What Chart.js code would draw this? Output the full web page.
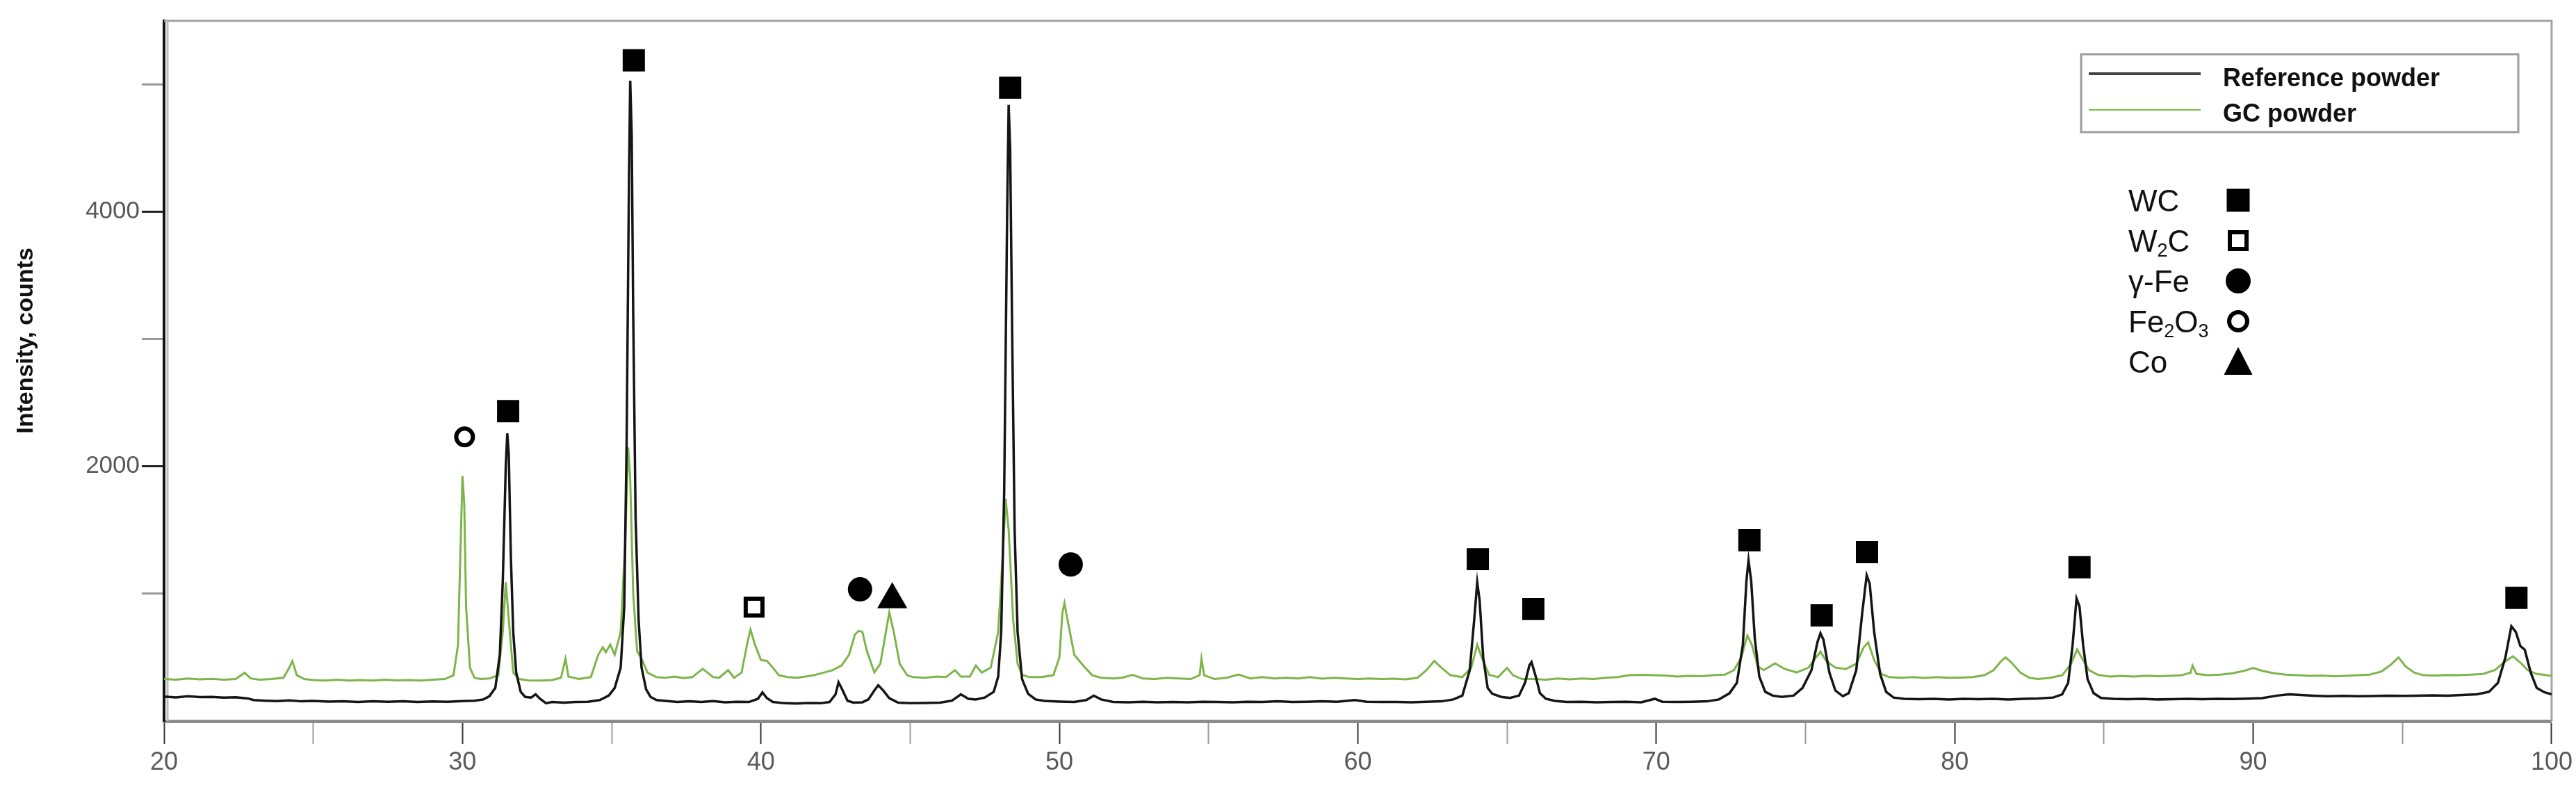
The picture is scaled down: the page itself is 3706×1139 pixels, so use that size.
<!DOCTYPE html>
<html>
<head>
<meta charset="utf-8">
<script src="https://cdn.jsdelivr.net/npm/chart.js@4.4.0/dist/chart.umd.min.js"></script>
<style>
  html, body { margin: 0; padding: 0; background: #fff; }
  #wrap { width: 3706px; height: 1139px; }
</style>
</head>
<body>
<div id="wrap"><canvas id="xrd" width="3706" height="1139"></canvas></div>
<script>
// XRD patterns, [2theta, counts]
const referencePowder = [
  [20.0,192],[20.4,186],[20.8,195],[21.2,188],[21.6,190],[22.0,184],[22.4,187],[22.8,178],[23.0,165],[23.4,160],
  [23.8,157],[24.2,162],[24.6,155],[25.0,158],[25.5,153],[26.0,156],[26.5,150],[27.0,155],[27.5,152],[28.0,156],
  [28.5,150],[29.0,154],[29.5,152],[30.0,157],[30.4,160],[30.7,170],[30.9,195],[31.1,260],[31.25,520],[31.35,1100],
  [31.45,2000],[31.5,2260],[31.55,2100],[31.62,1300],[31.7,700],[31.8,380],[31.95,230],[32.1,190],[32.3,185],[32.45,210],
  [32.6,175],[32.8,140],[33.0,150],[33.4,145],[33.8,150],[34.2,152],[34.6,165],[34.9,200],[35.1,260],[35.3,420],
  [35.42,900],[35.5,2200],[35.58,4300],[35.62,5030],[35.67,4600],[35.72,3200],[35.8,1600],[35.9,800],[36.0,420],[36.15,250],
  [36.3,190],[36.5,165],[36.8,158],[37.2,150],[37.6,155],[38.0,150],[38.4,157],[38.8,148],[39.2,152],[39.6,150],
  [39.9,175],[40.05,225],[40.2,180],[40.4,150],[40.8,140],[41.2,138],[41.6,142],[42.0,140],[42.3,150],[42.5,210],
  [42.6,305],[42.72,250],[42.9,160],[43.1,145],[43.4,148],[43.6,170],[43.8,240],[43.93,282],[44.1,240],[44.3,180],
  [44.6,145],[45.0,140],[45.5,142],[46.0,145],[46.4,160],[46.7,210],[46.95,175],[47.2,170],[47.5,185],[47.8,230],
  [47.95,350],[48.05,700],[48.15,1800],[48.25,4000],[48.3,4840],[48.35,4500],[48.42,3000],[48.5,1500],[48.6,700],[48.75,330],
  [48.95,215],[49.2,170],[49.5,158],[50.0,153],[50.5,150],[50.9,165],[51.15,200],[51.4,170],[51.8,150],[52.3,147],
  [52.8,152],[53.3,148],[53.8,150],[54.3,147],[54.8,152],[55.3,150],[55.8,148],[56.3,152],[56.8,150],[57.3,155],
  [57.8,150],[58.3,152],[58.8,155],[59.3,152],[59.9,165],[60.3,152],[60.8,150],[61.3,150],[61.8,148],[62.3,152],
  [62.8,155],[63.2,170],[63.5,200],[63.75,400],[63.9,800],[64.0,1090],[64.08,950],[64.2,500],[64.35,260],[64.5,215],
  [64.8,190],[65.1,182],[65.4,200],[65.6,300],[65.75,440],[65.82,463],[65.95,360],[66.1,220],[66.3,175],[66.6,158],
  [67.0,150],[67.5,152],[68.0,148],[68.5,150],[69.0,152],[69.5,148],[69.95,175],[70.2,152],[70.7,150],[71.2,152],
  [71.7,155],[72.1,170],[72.45,218],[72.7,300],[72.9,600],[73.02,1100],[73.09,1263],[73.18,1100],[73.3,650],[73.45,350],
  [73.65,230],[73.9,200],[74.2,190],[74.6,200],[74.9,260],[75.2,400],[75.4,620],[75.5,690],[75.6,640],[75.8,380],
  [76.0,240],[76.25,195],[76.45,220],[76.7,400],[76.9,850],[77.05,1145],[77.15,1080],[77.3,700],[77.5,370],[77.7,230],
  [77.95,185],[78.3,175],[78.8,172],[79.3,175],[79.8,170],[80.3,175],[80.8,172],[81.3,175],[81.8,170],[82.3,175],
  [82.8,178],[83.3,185],[83.6,210],[83.8,300],[83.95,600],[84.08,963],[84.18,900],[84.3,600],[84.45,330],[84.65,220],
  [84.9,182],[85.3,175],[85.8,172],[86.3,175],[86.8,170],[87.3,172],[87.8,175],[88.3,172],[88.8,175],[89.3,173],
  [89.8,176],[90.3,180],[90.8,200],[91.2,210],[91.6,205],[92.0,200],[92.5,195],[93.0,198],[93.5,195],[94.0,197],
  [94.5,200],[95.0,198],[95.5,200],[96.0,202],[96.5,200],[97.0,205],[97.5,210],[97.9,230],[98.2,300],[98.45,500],
  [98.65,745],[98.8,700],[98.95,590],[99.1,560],[99.3,380],[99.5,260],[99.75,227],[100.0,210]
];

const gcPowder = [
  [20.0,330],[20.4,325],[20.8,335],[21.2,328],[21.6,332],[22.0,325],[22.4,330],[22.7,380],[22.9,335],[23.2,325],
  [23.6,330],[24.0,340],[24.2,420],[24.3,472],[24.45,360],[24.7,330],[25.0,322],[25.4,318],[25.8,325],[26.2,318],
  [26.6,322],[27.0,318],[27.4,325],[27.8,320],[28.2,322],[28.6,318],[29.0,325],[29.4,330],[29.7,360],[29.85,600],
  [29.95,1500],[30.0,1925],[30.06,1700],[30.12,900],[30.25,420],[30.4,340],[30.6,330],[30.9,335],[31.2,360],[31.35,700],
  [31.45,1090],[31.55,800],[31.7,380],[31.9,330],[32.2,320],[32.6,318],[33.0,322],[33.3,340],[33.45,490],[33.55,350],
  [33.9,330],[34.3,345],[34.55,520],[34.7,580],[34.8,540],[34.95,600],[35.1,520],[35.3,700],[35.45,1400],[35.55,2150],
  [35.62,1900],[35.72,1000],[35.85,550],[36.0,490],[36.2,380],[36.5,345],[36.8,340],[37.1,350],[37.4,338],[37.7,345],
  [38.05,410],[38.4,345],[38.6,340],[38.9,400],[39.1,340],[39.35,380],[39.55,620],[39.65,718],[39.8,600],[40.0,480],
  [40.2,473],[40.4,420],[40.6,360],[40.9,345],[41.2,340],[41.5,350],[41.8,362],[42.1,380],[42.4,400],[42.7,436],
  [42.95,520],[43.15,680],[43.28,709],[43.4,700],[43.55,550],[43.8,382],[44.0,450],[44.15,650],[44.3,854],[44.45,700],
  [44.65,450],[44.9,360],[45.1,345],[45.5,340],[45.9,350],[46.2,345],[46.5,400],[46.7,350],[47.0,350],[47.2,436],
  [47.4,380],[47.7,420],[47.95,700],[48.1,1300],[48.2,1744],[48.3,1500],[48.45,800],[48.6,450],[48.75,363],[49.0,345],
  [49.4,345],[49.8,360],[50.0,500],[50.1,850],[50.17,927],[50.3,760],[50.5,520],[50.8,436],[51.1,360],[51.4,340],
  [51.8,335],[52.1,340],[52.45,363],[52.8,335],[53.2,330],[53.6,340],[54.0,335],[54.4,330],[54.7,360],[54.76,490],
  [54.85,360],[55.2,330],[55.6,340],[56.0,365],[56.4,335],[56.8,345],[57.2,335],[57.6,340],[58.0,335],[58.4,345],
  [58.8,333],[59.2,340],[59.6,335],[60.0,330],[60.4,335],[60.8,330],[61.2,333],[61.6,328],[62.0,340],[62.3,400],
  [62.56,472],[62.8,420],[63.1,360],[63.5,345],[63.8,420],[64.0,600],[64.15,500],[64.4,363],[64.7,345],[65.0,418],
  [65.2,360],[65.5,330],[65.9,330],[66.3,325],[66.7,335],[67.1,328],[67.5,335],[67.9,330],[68.3,340],[68.7,345],
  [69.1,360],[69.5,363],[69.9,360],[70.3,358],[70.7,350],[71.1,355],[71.5,352],[71.9,360],[72.3,365],[72.6,400],
  [72.85,500],[73.05,672],[73.2,600],[73.4,430],[73.6,400],[73.98,454],[74.3,410],[74.7,382],[75.1,420],[75.35,500],
  [75.5,545],[75.7,470],[76.0,420],[76.35,409],[76.7,450],[76.95,580],[77.1,618],[77.3,480],[77.55,370],[77.8,345],
  [78.2,340],[78.6,345],[79.0,338],[79.4,345],[79.8,340],[80.2,342],[80.6,345],[81.0,360],[81.3,400],[81.55,470],
  [81.7,500],[81.9,460],[82.2,380],[82.5,340],[82.8,330],[83.2,340],[83.6,360],[83.9,450],[84.1,563],[84.25,500],
  [84.5,400],[84.8,363],[85.2,350],[85.6,355],[86.0,350],[86.4,356],[86.8,352],[87.2,355],[87.6,360],[87.9,380],
  [87.97,436],[88.1,370],[88.5,360],[88.9,365],[89.3,375],[89.7,395],[90.0,418],[90.3,395],[90.7,375],[91.1,365],
  [91.5,360],[91.9,355],[92.3,358],[92.7,352],[93.1,355],[93.5,360],[93.9,365],[94.3,390],[94.6,440],[94.87,500],
  [95.1,430],[95.4,380],[95.7,360],[96.1,358],[96.5,362],[96.9,360],[97.3,365],[97.7,370],[98.1,400],[98.4,460],
  [98.7,509],[98.95,460],[99.2,400],[99.5,370],[99.75,363],[100.0,355]
];

// phase markers placed above the peaks, [2theta, counts]
const wcPeaks = [[31.53,2435],[35.74,5190],[48.35,4975],[64.02,1272],[65.88,880],[73.12,1420],[75.54,830],[77.06,1327],[84.18,1208],[98.82,968]];
const w2cPeaks = [[39.77,895]];
const gammaFePeaks = [[43.32,1035],[50.38,1230]];
const fe2o3Peaks = [[30.07,2232]];
const coPeaks = [[44.4,955]];

const seriesLabels = ['Reference powder', 'GC powder'];
const phaseLabels = ['WC', 'W_2C', 'γ-Fe', 'Fe_2O_3', 'Co'];
const xTickLabels = [20, 30, 40, 50, 60, 70, 80, 90, 100];
const yTickValues = [1000, 2000, 3000, 4000, 5000];
const yTickLabels = [2000, 4000];

const FONT = "'Liberation Sans', Arial, sans-serif";
const phasePeaks = [wcPeaks, w2cPeaks, gammaFePeaks, fe2o3Peaks, coPeaks];
const phaseStyles = ['rect', 'rect', 'circle', 'circle', 'triangle'];
const phaseFilled = [true, false, true, false, true];
const markerRadius = [22.6, 17, 17.5, 12, 25];

function toPoints(pairs) {
    return pairs.map(p => ({x: p[0], y: p[1]}));
}

// text with "_d" meaning subscript digit
function drawRich(ctx, text, x, y, size) {
    let cx = x;
    for (let i = 0; i < text.length; i++) {
        let ch = text[i];
        if (ch === '_') {
            i++;
            ctx.font = `${Math.round(size * 0.62)}px ${FONT}`;
            ctx.fillText(text[i], cx, y + size * 0.16);
            cx += ctx.measureText(text[i]).width;
        } else {
            ctx.font = `${size}px ${FONT}`;
            ctx.fillText(ch, cx, y);
            cx += ctx.measureText(ch).width;
        }
    }
}

function drawSymbol(ctx, style, filled, x, y) {
    ctx.fillStyle = '#000';
    ctx.strokeStyle = '#000';
    ctx.beginPath();
    if (style === 'rect') {
        if (filled) {
            ctx.fillRect(x - 16.5, y - 16.5, 33, 33);
        } else {
            ctx.lineWidth = 6;
            ctx.fillStyle = '#fff';
            ctx.rect(x - 12, y - 12, 24, 24);
            ctx.fill();
            ctx.stroke();
        }
    } else if (style === 'circle') {
        if (filled) {
            ctx.arc(x, y, 18, 0, Math.PI * 2);
            ctx.fill();
        } else {
            ctx.lineWidth = 6;
            ctx.fillStyle = '#fff';
            ctx.arc(x, y, 13, 0, Math.PI * 2);
            ctx.fill();
            ctx.stroke();
        }
    } else {
        ctx.moveTo(x, y - 21);
        ctx.lineTo(x + 20.5, y + 19);
        ctx.lineTo(x - 20.5, y + 19);
        ctx.closePath();
        ctx.fill();
    }
}

const decorations = {
    id: 'decorations',
    beforeDatasetsDraw(chart) {
        const ctx = chart.ctx;
        const a = chart.chartArea;
        ctx.save();
        ctx.strokeStyle = '#a3a3a3';
        ctx.lineWidth = 3;
        ctx.beginPath();
        ctx.moveTo(a.left, a.top);
        ctx.lineTo(a.right, a.top);
        ctx.lineTo(a.right, a.bottom);
        ctx.stroke();
        ctx.strokeStyle = '#bdbdbd';
        ctx.beginPath();
        ctx.moveTo(a.left + 5, a.top);
        ctx.lineTo(a.left + 5, a.bottom);
        ctx.stroke();
        ctx.restore();
    },
    afterDraw(chart) {
        const ctx = chart.ctx;
        ctx.save();

        // y axis title
        ctx.translate(38, 490);
        ctx.rotate(-Math.PI / 2);
        ctx.font = `bold 34px ${FONT}`;
        ctx.fillStyle = '#111';
        ctx.textAlign = 'center';
        ctx.textBaseline = 'middle';
        ctx.fillText('Intensity, counts', 0, 0);
        ctx.setTransform(1, 0, 0, 1, 0, 0);

        // series legend box
        ctx.strokeStyle = '#9c9c9c';
        ctx.lineWidth = 3;
        ctx.strokeRect(2994, 78, 629, 112);
        const lineY = [106, 158];
        const textY = [124, 175];
        const lineW = [4, 2.5];
        const lineCol = ['#444', '#8cc05a'];
        ctx.textAlign = 'left';
        ctx.textBaseline = 'alphabetic';
        seriesLabels.forEach((lab, i) => {
            ctx.strokeStyle = lineCol[i];
            ctx.lineWidth = lineW[i];
            ctx.beginPath();
            ctx.moveTo(3005, lineY[i]);
            ctx.lineTo(3166, lineY[i]);
            ctx.stroke();
            ctx.fillStyle = '#111';
            ctx.font = `bold 36px ${FONT}`;
            ctx.fillText(lab, 3198, textY[i]);
        });

        // phase key
        const rowY = [288, 346, 404, 462, 520];
        phaseLabels.forEach((lab, i) => {
            ctx.fillStyle = '#111';
            drawRich(ctx, lab, 3062, rowY[i] + 16, 44);
            drawSymbol(ctx, phaseStyles[i], phaseFilled[i], 3220, rowY[i]);
        });
        ctx.restore();
    }
};

const markerSets = phaseLabels.map((lab, i) => ({
    type: 'line',
    label: lab,
    data: toPoints(phasePeaks[i]),
    showLine: false,
    pointStyle: phaseStyles[i],
    pointRadius: markerRadius[i],
    pointBackgroundColor: phaseFilled[i] ? '#000' : '#fff',
    pointBorderColor: '#000',
    pointBorderWidth: phaseFilled[i] ? 0 : 6,
    order: 0
}));

const data = {
    datasets: [
        ...markerSets,
        {
            label: seriesLabels[0],
            data: toPoints(referencePowder),
            borderColor: '#151515',
            borderWidth: 3.5,
            pointRadius: 0,
            tension: 0,
            order: 1
        },
        {
            label: seriesLabels[1],
            data: toPoints(gcPowder),
            borderColor: '#7db54a',
            borderWidth: 3,
            pointRadius: 0,
            tension: 0,
            order: 2
        }
    ]
};

const config = {
    type: 'line',
    data: data,
    plugins: [decorations],
    options: {
        responsive: false,
        devicePixelRatio: 1,
        animation: false,
        events: [],
        layout: { padding: { left: 0, right: 34, top: 30, bottom: 0 } },
        plugins: {
            legend: { display: false },
            tooltip: { enabled: false }
        },
        scales: {
            x: {
                type: 'linear',
                min: 20,
                max: 100,
                ticks: {
                    stepSize: 5,
                    autoSkip: false,
                    maxRotation: 0,
                    padding: 5,
                    color: '#5a5a5a',
                    font: { family: FONT, size: 36 },
                    callback: v => xTickLabels.includes(v) ? String(v) : ''
                },
                grid: {
                    drawOnChartArea: false,
                    tickLength: 33,
                    tickWidth: 2,
                    tickColor: c => (c.tick && c.tick.value % 10 === 0) ? '#333' : '#9a9a9a'
                },
                border: { display: true, color: '#8c8c8c', width: 5 },
                afterFit: s => { s.height = 102; }
            },
            y: {
                min: 0,
                max: 5500,
                afterBuildTicks: s => { s.ticks = yTickValues.map(v => ({value: v})); },
                ticks: {
                    autoSkip: false,
                    padding: 3,
                    color: '#5a5a5a',
                    font: { family: FONT, size: 35 },
                    callback: v => yTickLabels.includes(v) ? String(v) : ''
                },
                grid: {
                    drawOnChartArea: false,
                    tickLength: 32,
                    tickWidth: 3,
                    tickColor: c => (c.tick && yTickLabels.includes(c.tick.value)) ? '#222' : '#9a9a9a'
                },
                border: { display: true, color: '#111', width: 4 },
                afterFit: s => { s.width = 236; }
            }
        }
    }
};

let ctx = document.getElementById('xrd').getContext('2d');
new Chart(ctx, config);
</script>
</body>
</html>
